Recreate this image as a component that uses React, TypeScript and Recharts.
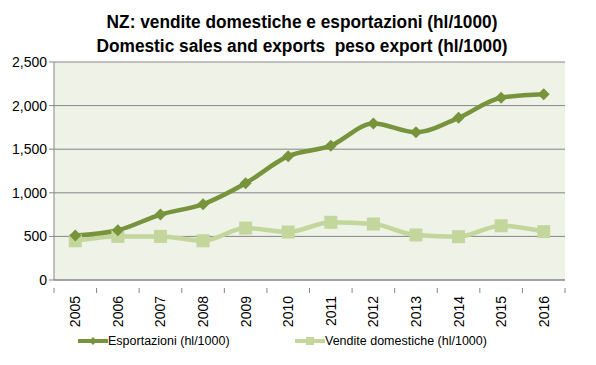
import { LineChart, Line, XAxis, YAxis, CartesianGrid } from "recharts";

document.body.style.margin = "0";

const YEARS = ["2005", "2006", "2007", "2008", "2009", "2010", "2011", "2012", "2013", "2014", "2015", "2016"];
const EXPORTS = [510, 570, 750, 870, 1110, 1420, 1540, 1795, 1695, 1860, 2090, 2130];
const DOMESTIC = [450, 500, 500, 450, 595, 550, 662, 642, 516, 497, 622, 555];
const Y_TICKS = [0, 500, 1000, 1500, 2000, 2500];

const EXP_COLOR = "#77933C";
const DOM_COLOR = "#C3D69B";
const GRID = "#868686";
const BAND = 511 / 12;

const data = YEARS.map((year, i) => ({ year, exp: EXPORTS[i], dom: DOMESTIC[i] }));

const Diamond = (props: any) => {
  const { cx, cy } = props;
  if (cx == null || cy == null) return null;
  const r = 6;
  return (
    <path
      d={`M${cx},${cy - r}L${cx + r},${cy}L${cx},${cy + r}L${cx - r},${cy}Z`}
      fill={EXP_COLOR}
    />
  );
};

const Square = (props: any) => {
  const { cx, cy } = props;
  if (cx == null || cy == null) return null;
  const s = 13;
  return <rect x={cx - s / 2} y={cy - s / 2} width={s} height={s} fill={DOM_COLOR} />;
};

const YearTick = (props: any) => {
  const { x, y, payload, index } = props;
  return (
    <g>
      <line x1={x - BAND / 2} y1={y} x2={x - BAND / 2} y2={y + 5} stroke={GRID} />
      {index === YEARS.length - 1 && (
        <line x1={x + BAND / 2} y1={y} x2={x + BAND / 2} y2={y + 5} stroke={GRID} />
      )}
      <text
        transform={`translate(${x + 5},${y + 8}) rotate(-90)`}
        textAnchor="end"
        fontSize={14}
        fill="#000"
        fontFamily="'Liberation Sans', Arial, sans-serif"
      >
        {payload.value}
      </text>
    </g>
  );
};

export default function App() {
  return (
    <div style={{ position: "relative", width: 596, height: 365, background: "#fff" }}>
      <div
        style={{
          position: "absolute",
          top: 10,
          left: 0,
          width: 604,
          textAlign: "center",
          fontFamily: "'Liberation Sans', Arial, sans-serif",
          fontWeight: "bold",
          fontSize: 18,
          lineHeight: "24px",
          transform: "scaleX(0.96)",
          transformOrigin: "302px 0",
        }}
      >
        <div>NZ: vendite domestiche e esportazioni (hl/1000)</div>
        <div>Domestic sales and exports&nbsp; peso export (hl/1000)</div>
      </div>
      <LineChart
        width={596}
        height={365}
        data={data}
        margin={{ top: 62, right: 31, left: 0, bottom: 45 }}
        style={{ position: "absolute", top: 0, left: 0 }}
      >
        <CartesianGrid vertical={false} stroke={GRID} fill="#EEF2E7" />
        <XAxis
          dataKey="year"
          stroke={GRID}
          tickLine={false}
          tick={<YearTick />}
          interval={0}
          height={40}
          padding={{ left: BAND / 2, right: BAND / 2 }}
        />
        <YAxis
          domain={[0, 2500]}
          ticks={Y_TICKS}
          width={54}
          stroke={GRID}
          tickSize={5}
          tickFormatter={(v: number) => v.toLocaleString("en-US")}
          tick={{ fill: "#000", fontSize: 14, fontFamily: "'Liberation Sans', Arial, sans-serif" }}
        />
        <Line
          type="monotone"
          dataKey="dom"
          stroke={DOM_COLOR}
          strokeWidth={4.5}
          dot={<Square />}
          isAnimationActive={false}
        />
        <Line
          type="monotone"
          dataKey="exp"
          stroke={EXP_COLOR}
          strokeWidth={4.5}
          dot={<Diamond />}
          isAnimationActive={false}
        />
      </LineChart>
      <div
        style={{
          position: "absolute",
          top: 333,
          left: 78,
          display: "flex",
          fontFamily: "'Liberation Sans', Arial, sans-serif",
          fontSize: 12.5,
          lineHeight: "16px",
        }}
      >
        <div style={{ display: "flex", alignItems: "center", width: 217 }}>
          <svg width={30} height={12}>
            <line x1={0} y1={6} x2={30} y2={6} stroke={EXP_COLOR} strokeWidth={4} />
            <path d="M15,2L19,6L15,10L11,6Z" fill={EXP_COLOR} />
          </svg>
          <span>Esportazioni (hl/1000)</span>
        </div>
        <div style={{ display: "flex", alignItems: "center" }}>
          <svg width={30} height={12}>
            <line x1={0} y1={6} x2={30} y2={6} stroke={DOM_COLOR} strokeWidth={4} />
            <rect x={11} y={2} width={8} height={8} fill={DOM_COLOR} />
          </svg>
          <span>Vendite domestiche (hl/1000)</span>
        </div>
      </div>
    </div>
  );
}
